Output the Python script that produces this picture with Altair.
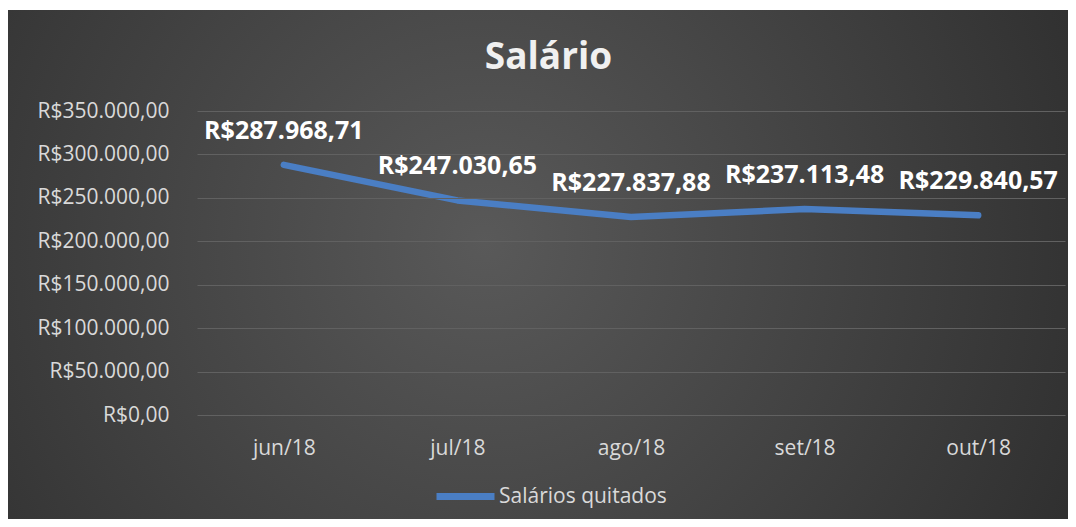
import altair as alt
import pandas as pd

meses = ["jun/18", "jul/18", "ago/18", "set/18", "out/18"]
valores = [287968.71, 247030.65, 227837.88, 237113.48, 229840.57]
serie = "Salários quitados"
titulo = ["Salário"]
y_ticks = [0, 50000, 100000, 150000, 200000, 250000, 300000, 350000]

df = pd.DataFrame({"mes": meses, "valor": valores, "serie": [serie] * len(meses)})
bg_df = pd.DataFrame({"k": [0]})
title_df = pd.DataFrame({"t": titulo})

FONT = "Open Sans"
TXT = "#d9d9d9"

bg = alt.Chart(bg_df).mark_rect(
    color=alt.Gradient(
        gradient="radial",
        stops=[alt.GradientStop(color="#595959", offset=0),
               alt.GradientStop(color="#242424", offset=1)],
        x1=0.45, y1=0.48, x2=0.45, y2=0.48, r1=0, r2=0.78,
    )
).encode(x=alt.value(-189), x2=alt.value(871), y=alt.value(-101), y2=alt.value(408))

x_enc = alt.X("mes:N", sort=meses, title=None,
              axis=alt.Axis(labelAngle=0, domain=False, ticks=False, grid=False, zindex=1,
                            labelFont=FONT, labelFontSize=21, labelColor=TXT, labelPadding=22))
y_enc = alt.Y("valor:Q", title=None, scale=alt.Scale(domain=[0, 350000]),
              axis=alt.Axis(values=y_ticks, format="$,.2f", domain=False, ticks=False, zindex=1,
                            grid=True, gridColor="#616161", gridWidth=1,
                            labelFont=FONT, labelFontSize=21, labelColor=TXT, labelPadding=28))

line = alt.Chart(df).mark_line(strokeWidth=6.5, strokeCap="round", strokeJoin="round").encode(
    x=x_enc, y=y_enc,
    color=alt.Color("serie:N", title=None,
                    scale=alt.Scale(range=["#4a7ec4"]),
                    legend=alt.Legend(orient="none", legendX=236, legendY=353, zindex=2,
                                      symbolType="stroke", symbolSize=3364, symbolStrokeWidth=7,
                                      labelFont=FONT, labelFontSize=21, labelColor=TXT,
                                      labelOffset=1, labelLimit=400)),
)

labels = alt.Chart(df).mark_text(dy=-34, fontWeight="bold", fontSize=25, font=FONT,
                                 color="white").encode(
    x=alt.X("mes:N", sort=meses),
    y=alt.Y("valor:Q"),
    text=alt.Text("valor:Q", format="$,.2f"),
)

title = alt.Chart(title_df).mark_text(fontWeight="bold", fontSize=37, font=FONT, color="#f0f0f0",
                                      baseline="middle", align="center").encode(
    x=alt.value(351.5), y=alt.value(-53), text="t:N",
)

chart = alt.layer(bg, line, labels, title).properties(
    width=868, height=304,
    padding={"left": 189, "top": 103, "right": 3, "bottom": 104},
    autosize=alt.AutoSizeParams(type="none"),
).configure(
    background="white",
    locale={"number": {"decimal": ",", "thousands": ".", "grouping": [3], "currency": ["R$", ""]}},
).configure_view(stroke=None)

chart.save("out.html", embed_options={"renderer": "svg", "actions": False})
